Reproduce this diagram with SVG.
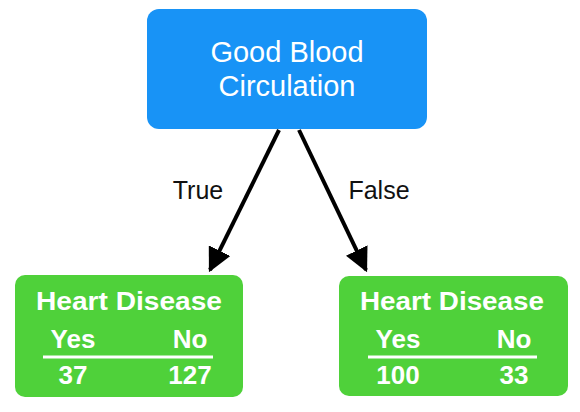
<svg xmlns="http://www.w3.org/2000/svg" width="580" height="412" viewBox="0 0 580 412">
<defs>
<style>
.blue{fill:#1893f6}
.green{fill:#4fd13a}
.wt{fill:#fff;font-family:"Liberation Sans",Arial,sans-serif}
.h{font-weight:bold;font-size:26px}
.lbl{fill:#111;font-family:"Liberation Sans",Arial,sans-serif;font-size:25px}
.edge{stroke:#000;stroke-width:4;fill:none}
.rule{stroke:#fff;stroke-width:3}
</style>
<marker id="arr" viewBox="0 0 10 10" refX="9" refY="5" markerWidth="6" markerHeight="6" orient="auto" markerUnits="strokeWidth">
<path d="M0,0 L10,5 L0,10 z" fill="#000"/>
</marker>
</defs>
<g id="connectors">
<line class="edge" x1="279" y1="130" x2="210" y2="270" marker-end="url(#arr)"/>
<line class="edge" x1="299" y1="130" x2="366" y2="270" marker-end="url(#arr)"/>
<text class="lbl" x="198" y="199" text-anchor="middle">True</text>
<text class="lbl" x="379" y="199" text-anchor="middle">False</text>
</g>
<g id="root">
<rect class="blue" x="147" y="9" width="280" height="120" rx="12"/>
<text class="wt" x="287" y="62" font-size="29" text-anchor="middle">Good Blood</text>
<text class="wt" x="287" y="96" font-size="29" text-anchor="middle">Circulation</text>
</g>
<g id="leaf-true">
<rect class="green" x="15" y="275" width="228" height="122" rx="10"/>
<text class="wt h" x="129" y="310" text-anchor="middle" textLength="186" lengthAdjust="spacingAndGlyphs">Heart Disease</text>
<text class="wt h" x="73" y="348" text-anchor="middle">Yes</text>
<text class="wt h" x="190" y="348" text-anchor="middle">No</text>
<line class="rule" x1="43" y1="357" x2="213" y2="357"/>
<text class="wt h" x="73" y="384" text-anchor="middle">37</text>
<text class="wt h" x="190" y="384" text-anchor="middle">127</text>
</g>
<g id="leaf-false">
<rect class="green" x="339" y="276" width="229" height="120" rx="10"/>
<text class="wt h" x="452" y="310" text-anchor="middle" textLength="184" lengthAdjust="spacingAndGlyphs">Heart Disease</text>
<text class="wt h" x="398" y="348" text-anchor="middle">Yes</text>
<text class="wt h" x="514" y="348" text-anchor="middle">No</text>
<line class="rule" x1="368" y1="357" x2="537" y2="357"/>
<text class="wt h" x="398" y="384" text-anchor="middle">100</text>
<text class="wt h" x="514" y="384" text-anchor="middle">33</text>
</g>
</svg>
